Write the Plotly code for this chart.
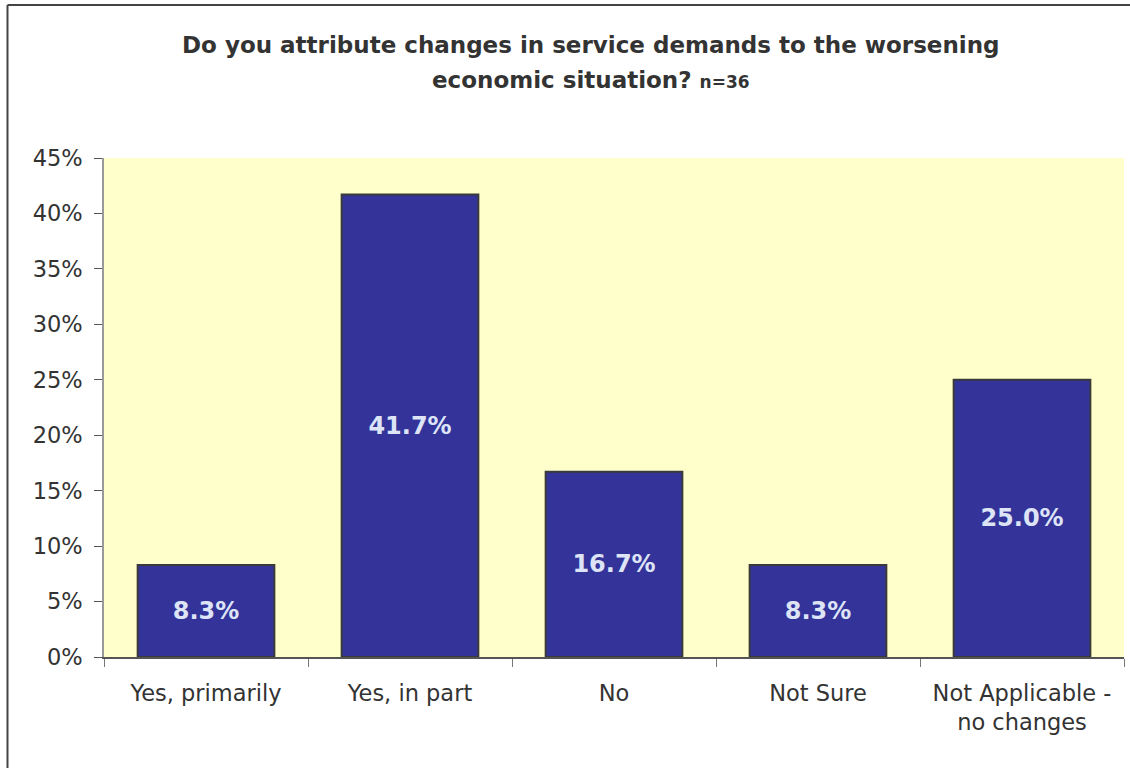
import plotly.graph_objects as go

categories = ["Yes, primarily", "Yes, in part", "No", "Not Sure", "Not Applicable -<br>no changes"]
shares = [8.3, 41.7, 16.7, 8.3, 25.0]
y_ticks = [0, 5, 10, 15, 20, 25, 30, 35, 40, 45]
y_tick_labels = [f"{t}%" for t in y_ticks]
title_lines = [
    "Do you attribute changes in service demands to the worsening",
    "economic situation? <span style='font-size:17px'>n=36</span>",
]

FONT = "DejaVu Sans"

fig = go.Figure(
    go.Bar(
        x=categories,
        y=shares,
        width=0.67,
        marker=dict(color="#333399", line=dict(color="#3a3a3a", width=2)),
        text=[f"{v:.1f}%" for v in shares],
        textposition="inside",
        insidetextanchor="middle",
        textangle=0,
        textfont=dict(family=FONT, size=24, color="#dde4f6", weight="bold"),
        cliponaxis=False,
    )
)

fig.update_layout(
    width=1130,
    height=768,
    margin=dict(l=104, r=6, t=158, b=111),
    paper_bgcolor="white",
    plot_bgcolor="#ffffcc",
    showlegend=False,
    bargap=0.33,
    uniformtext=dict(minsize=10, mode="show"),
)

# two-line title, one annotation per line for wider line spacing
for line, ypx in zip(title_lines, [45, 80]):
    fig.add_annotation(
        text=line,
        xref="paper", yref="paper",
        x=(591 - 104) / 1020, y=1 + (158 - ypx) / 499,
        xanchor="center", yanchor="middle",
        showarrow=False,
        font=dict(family=FONT, size=23, color="#333333", weight="bold"),
    )

fig.update_xaxes(
    showgrid=False,
    showline=True,
    linecolor="#555555",
    linewidth=1.5,
    ticks="outside",
    ticklen=8,
    tickcolor="#777777",
    tickson="boundaries",
    ticklabelstandoff=15,
    tickfont=dict(family=FONT, size=22.5, color="#333333"),
)

fig.update_yaxes(
    range=[0, 45],
    tickvals=y_ticks,
    ticktext=y_tick_labels,
    showgrid=False,
    zeroline=False,
    showline=True,
    linecolor="#999999",
    linewidth=1.5,
    ticks="outside",
    ticklen=8,
    tickcolor="#555555",
    ticklabelstandoff=7,
    tickfont=dict(family=FONT, size=22.5, color="#333333"),
)

# outer frame around the chart
fig.add_shape(
    type="line", xref="paper", yref="paper",
    x0=(7.5 - 104) / 1020, x1=(7.5 - 104) / 1020,
    y0=-0.3, y1=1 + (158 - 5) / 499,
    line=dict(color="#444444", width=2),
)
fig.add_shape(
    type="line", xref="paper", yref="paper",
    x0=(7.5 - 104) / 1020, x1=1.1,
    y0=1 + (158 - 5) / 499, y1=1 + (158 - 5) / 499,
    line=dict(color="#444444", width=2),
)

fig.write_html("out.html")
